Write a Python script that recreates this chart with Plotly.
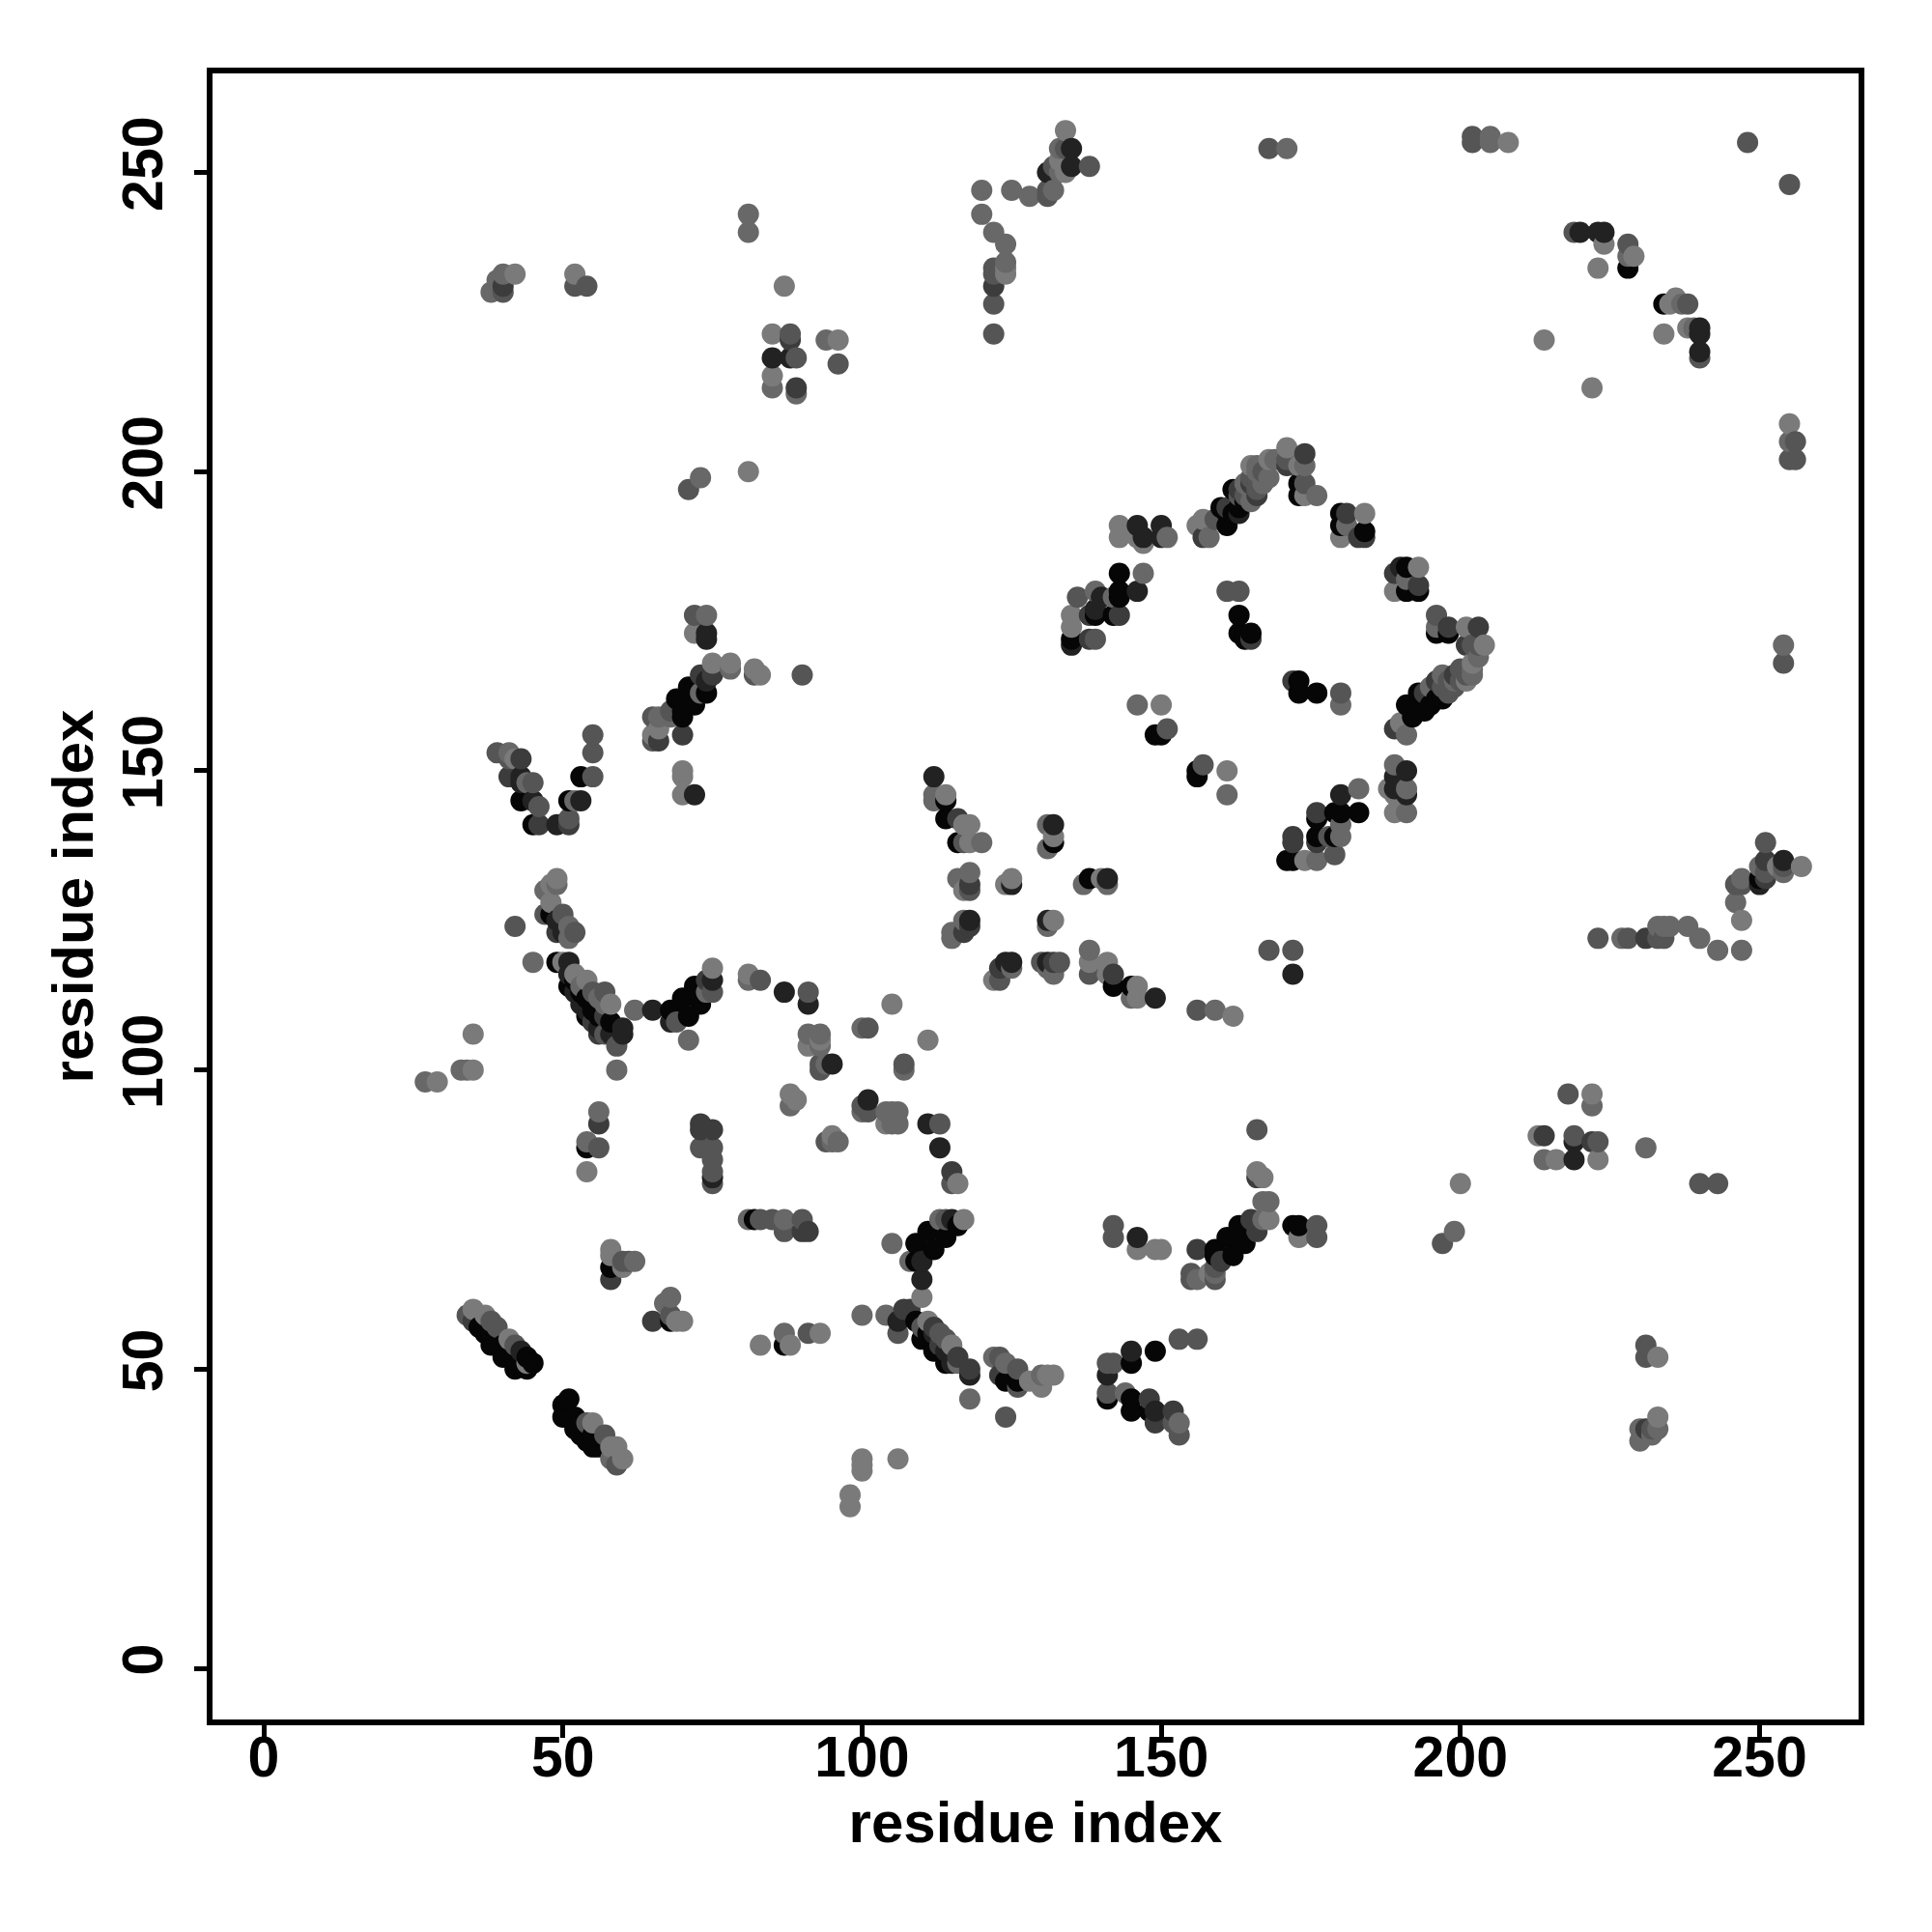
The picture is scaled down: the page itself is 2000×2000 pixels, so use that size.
import plotly.graph_objects as go

tick_values = [0, 50, 100, 150, 200, 250]
axis_title = "residue index"
gray_levels = ["#060606", "#222222", "#3c3c3c", "#555555", "#686868", "#7a7a7a"]

level0 = [(36,57),(37,56),(38,54),(38,56),(39,55),(40,52),(40,54),(41,53),(42,50),(42,52),(43,51),(44,50),(45,51),(44,52),
 (51,45),(50,44),(50,42),(52,40),(54,38),(56,37),(51,42),(52,42),(53,41),(53,39),(55,39),(55,37),(58,67),(68,58),(87,54),(82,75),
 (109,71),(109,68),(111,73),(112,70),(114,72),(116,74),(109,58),(110,55),(112,53),(114,51),(111,56),(113,53),(124,48),(126,48),(145,51),(149,53),
 (141,45),(145,45),(145,43),(148,43),(159,70),(159,69),(161,72),(162,69),(163,74),(164,71),(172,74),(173,74),
 (72,164),(71,164),(74,163),(69,162),(72,161),(70,160),(70,159),(53,149),(51,145),(45,141),(43,145),(49,118),(48,126),
 (51,114),(53,113),(55,110),(58,108),(68,110),(71,109),(70,112),(72,114),(73,111),(54,87),(52,115),(54,112),(56,109),
 (173,198),(173,196),(162,197),(160,194),(161,191),(162,193),(180,193),(180,191),(184,190),(191,184),(191,180),(193,180),(196,173),(198,173),
 (197,162),(193,163),(194,160),(191,161),(192,159),(173,165),(173,163),(176,163),(163,176),(163,173),(165,173),(164,172),(149,156),(150,156),
 (156,150),(156,149),(143,183),(143,180),(143,179),(139,176),(142,176),(135,172),(132,138),(138,132),(183,143),(180,143),(179,143),(176,142),
 (176,139),(179,139),(171,135),(172,135),(114,145),(114,142),(116,138),(142,114),(145,114),(228,234),(234,228),(250,132),
 (192,161),(193,161),(194,162),(195,161),(196,162),(163,194),(161,193),(164,195),(112,55),(114,52),(54,109)]
level1 = [(43,53),(111,91),(113,87),(115,75),(110,68),(110,65),(106,58),(115,51),(118,49),(141,49),(145,53),(149,43),(146,72),
 (74,173),(74,172),(74,165),(72,146),(53,145),(49,141),(45,145),(43,149),(43,148),(49,125),(50,123),(51,118),
 (51,116),(60,107),(60,106),(58,106),(65,110),(68,108),(75,115),(75,82),(87,113),(91,111),(95,101),(101,95),
 (163,193),(146,191),(147,189),(150,191),(150,189),(190,184),(140,179),(139,177),(146,180),(135,171),(132,141),(141,132),
 (191,150),(189,149),(189,147),(191,146),(180,146),(112,149),(125,131),(118,125),(131,125),(125,118),(124,118),(131,118),(149,112),(172,116),
 (85,219),(88,219),(135,254),(135,251),(131,250),(220,240),(223,240),(224,240),(240,224),(240,223),(240,220),(250,131),(254,135),(219,88),(219,85),
 (112,56),(114,53),(115,53),(53,111),(54,110),(52,113),(56,107)]
level2 = [(35,58),(58,65),(65,58),(90,73),(91,73),(115,83),(107,60),(108,60),(118,50),(123,49),(148,45),(152,43),(149,41),(156,70),(165,75),(166,73),(166,82),(160,68),
 (73,166),(75,166),(66,155),(70,156),(46,141),(51,141),(41,149),(43,152),(49,123),(56,106),(56,91),(73,91),(73,90),(75,90),(74,115),
 (174,203),(171,201),(157,189),(181,193),(184,189),(183,189),(189,183),(193,181),(198,174),(203,174),(201,171),(199,166),(189,157),(172,165),(165,172),
 (138,176),(143,176),(138,172),(176,143),(172,139),(172,138),(176,138),(116,142),(118,131),(118,124),(117,123),(123,117),(132,118),(142,116),
 (40,231),(88,222),(89,214),(231,122),(251,135),(251,132),(214,89),(222,88),(231,40),(122,231),
 (196,165),(194,163),(161,194),(163,197),(165,198),(166,196),(113,54),(116,52),(112,57),(55,108),(57,109)]
level3 = [(34,59),(39,57),(38,58),(42,54),(54,41),(57,39),(59,34),(60,68),(61,68),(68,59),(83,75),(85,75),(90,75),(87,73),(91,56),
 (114,75),(113,91),(115,81),(113,56),(106,56),(123,52),(126,50),(126,47),(124,42),(141,51),(142,51),(141,46),(152,41),(153,39),(153,55),(156,55),
 (142,74),(142,72),(155,66),(155,65),(159,65),(159,67),(166,90),(176,74),(176,72),
 (72,176),(82,166),(90,166),(68,160),(65,159),(65,155),(55,156),(55,153),(55,149),(51,142),(46,144),(45,148),(39,153),(41,152),(47,126),(50,126),(52,123),(42,124),
 (55,113),(57,113),(57,106),(59,104),(69,108),(75,113),(83,115),(91,113),(101,107),(93,100),(93,101),(107,101),(100,94),(101,93),(113,91),(94,88),(56,87),(73,87),(75,87),(75,85),(75,83),(75,81),
 (171,202),(174,198),(159,192),(166,199),(196,176),(203,171),(202,171),(199,164),(180,163),(161,180),(163,180),(151,157),(157,151),(136,179),(139,172),(178,139),(179,136),
 (117,138),(118,130),(130,118),(133,118),(123,115),(138,116),(156,110),(168,120),(172,120),
 (40,230),(52,231),(54,231),(88,223),(96,218),(71,197),(89,219),(134,254),(138,251),(132,251),(131,247),(131,246),(168,254),(122,234),(122,233),(122,228),(122,223),
 (202,256),(202,255),(248,255),(255,248),(219,240),(228,238),(238,228),(240,219),(256,205),(255,202),(256,202),
 (254,168),(223,122),(228,122),(233,122),(234,122),(246,131),(247,131),(251,138),(251,133),(254,134),
 (218,96),(219,89),(223,88),(240,81),(243,81),(197,71),(231,54),(231,52),(232,40),
 (197,164),(198,165),(200,165),(200,167),(198,163),(201,166),(163,196),(164,196),(165,199),(166,197),(167,200),(114,55),(110,57)]
level4 = [(81,75),(87,75),(87,56),(100,59),(104,59),(105,71),(118,45),(58,35),(62,68),(68,62),(67,61),
 (108,68),(113,75),(116,51),(122,52),(124,51),(130,49),(144,46),(153,41),(156,65),(159,66),(167,78),(168,78),(167,75),
 (74,176),(78,167),(66,159),(68,159),(73,163),(52,145),(44,148),(41,153),(49,131),(47,130),(51,124),(51,122),(45,118),
 (74,113),(62,110),(71,105),(81,115),(100,107),(91,106),(93,106),(93,104),(94,101),(107,100),(88,94),(100,93),(104,93),(105,93),(106,93),(105,91),(106,91),(96,88),(95,88),(56,93),(54,88),(59,100),(57,111),
 (174,201),(158,189),(164,198),(165,197),(181,191),(191,182),(196,174),(191,156),(180,161),(146,161),(161,146),(147,183),(139,180),(142,179),(131,141),(131,137),(137,131),(141,131),
 (189,151),(191,147),(191,143),(183,147),(180,141),(180,139),(176,135),(176,196),(151,189),
 (112,146),(112,145),(120,138),(116,132),(118,133),(117,125),(115,123),(115,122),(131,124),(138,120),(145,112),(125,117),(131,117),(132,116),(159,110),
 (38,230),(39,232),(40,233),(81,243),(81,240),(85,214),(89,213),(94,222),(73,199),
 (133,254),(133,250),(132,247),(128,246),(125,247),(120,247),(120,243),(122,240),(124,238),(124,235),(171,254),
 (205,256),(205,255),(228,236),(237,228),(239,224),(255,205),
 (254,171),(227,122),(233,124),(234,124),(235,124),(238,124),(240,122),(243,120),(247,120),(246,128),(247,132),(250,134),(254,133),
 (222,94),(214,85),(231,87),(199,73),(233,40),(230,40),(230,38),(232,39),(33,100),(34,100),(27,98),
 (199,165),(202,167),(203,169),(202,166),(197,166),(195,164),(166,201),(167,198),(168,199),(166,200),(169,202),(165,195),(53,114),(56,112)]
level5 = [(35,60),(37,59),(41,55),(44,51),(55,41),(58,37),(59,37),(60,35),(58,70),(58,69),(60,67),(70,58),(69,58),(83,54),(88,54),(93,56),(100,35),(100,34),(100,33),(106,35),(98,29),(98,27),(110,62),
 (116,81),(117,75),(111,58),(115,54),(128,48),(130,47),(131,49),(132,49),(146,70),(149,70),(150,70),(158,66),(166,83),(167,82),(168,75),(173,72),
 (72,173),(75,168),(78,168),(82,167),(83,166),(66,157),(65,156),(70,150),(70,149),(70,146),(49,132),(48,131),(48,128),(42,152),(50,118),
 (52,116),(54,115),(58,111),(75,117),(81,116),(105,111),(111,105),(91,104),(93,105),(88,96),(89,95),(104,91),(95,89),(54,83),
 (171,204),(173,201),(168,202),(165,201),(156,191),(157,192),(143,191),(143,189),(146,189),(147,188),(180,189),(184,193),(193,184),(189,180),(201,174),(204,171),(202,168),(201,165),(190,158),(174,196),
 (150,161),(161,150),(135,176),(135,174),(132,139),(140,132),(188,147),(189,146),(189,143),(174,135),
 (114,146),(117,141),(118,141),(118,138),(117,130),(124,131),(125,132),(132,125),(122,115),(141,118),(138,118),(141,116),(146,114),(146,112),(162,109),
 (42,233),(52,233),(87,231),(85,223),(85,216),(96,222),(81,200),(134,257),(133,252),(134,250),(124,234),(124,233),
 (208,255),(224,238),(223,234),(229,236),(235,228),(236,229),(234,223),(238,224),(214,222),(222,214),(255,208),
 (253,134),(257,134),(247,125),(222,96),(213,89),(216,85),(223,85),(200,81),(233,52),(233,42),(35,106),(35,100),(29,98)]

cells = {}
for shade, pts in zip(gray_levels, [level0, level1, level2, level3, level4, level5]):
    for p in pts:
        cells[p] = shade
ordered = sorted(cells)

fig = go.Figure(go.Scatter(
    x=[p[0] for p in ordered], y=[p[1] for p in ordered], mode="markers",
    marker=dict(size=22, color=[cells[p] for p in ordered], line=dict(width=0)),
    showlegend=False, hoverinfo="skip", cliponaxis=False))

axis = dict(tickmode="array", tickvals=tick_values, ticktext=[str(t) for t in tick_values],
            showgrid=False, zeroline=False, showline=True, linecolor="black",
            linewidth=6, mirror=True, ticks="outside", ticklen=13, tickwidth=5, tickcolor="black",
            tickfont=dict(family="Liberation Sans", size=59, color="black", weight="bold"))
title_font = dict(family="Liberation Sans", size=60, color="black", weight="bold")
fig.update_layout(
    width=1984, height=1984, autosize=False, paper_bgcolor="white", plot_bgcolor="white",
    margin=dict(l=212, r=68, t=68, b=212),
    xaxis=dict(axis, range=[-8.56, 266.55], ticklabelstandoff=-31,
               title=dict(text=axis_title, standoff=16, font=title_font)),
    yaxis=dict(axis, range=[-8.55, 266.55], tickangle=-90, ticklabelstandoff=9,
               title=dict(text=axis_title, standoff=1, font=title_font)),
)
fig.write_html("out.html")
